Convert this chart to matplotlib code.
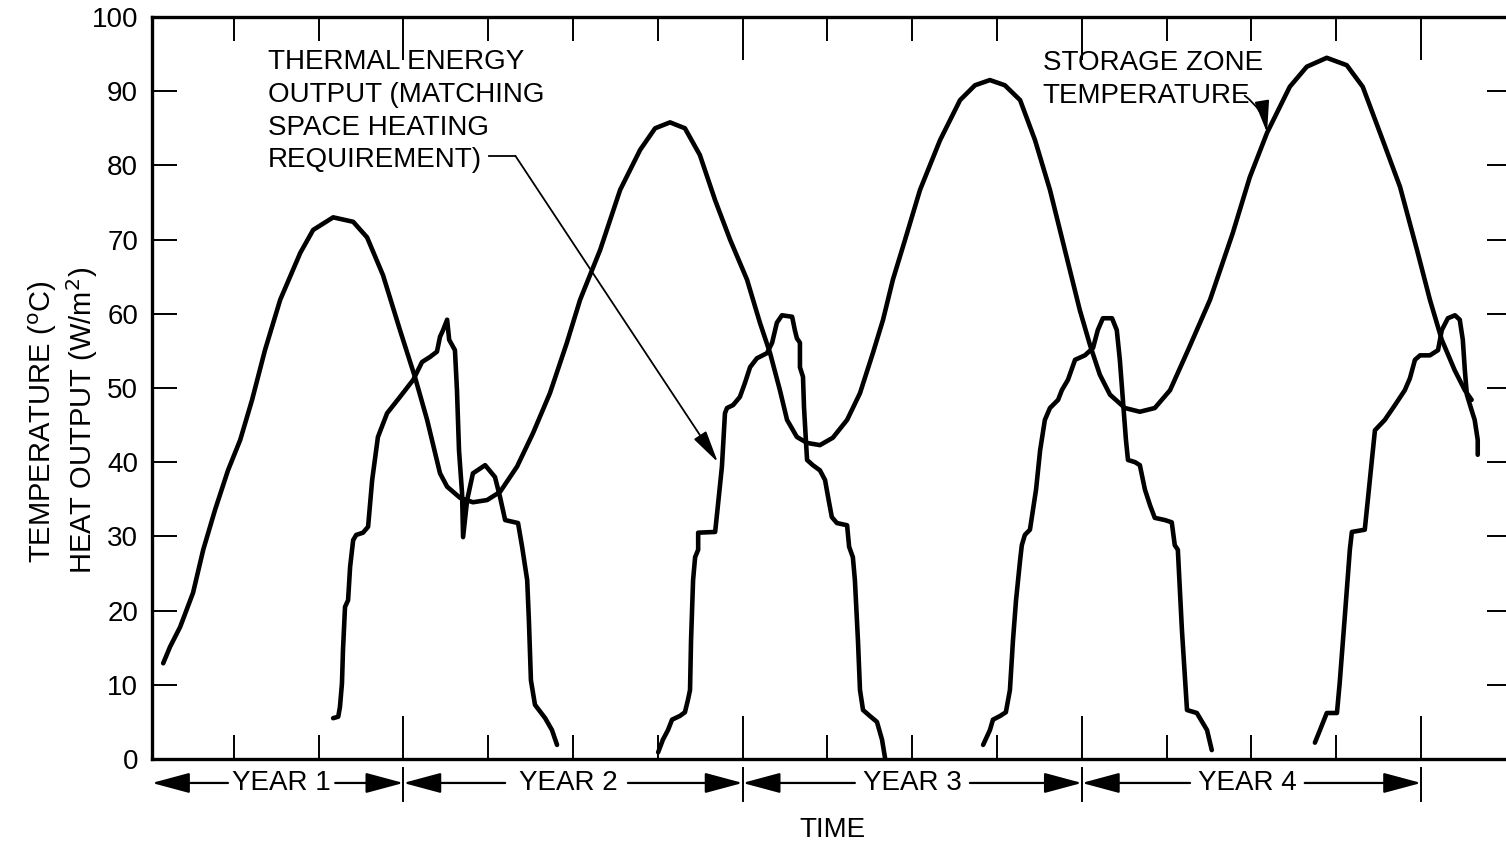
import matplotlib
matplotlib.use("Agg")
import matplotlib.pyplot as plt
from matplotlib.transforms import blended_transform_factory

plt.rcParams['font.family'] = ['Liberation Sans', 'DejaVu Sans']

# ---------------- data (time in years, value in degC or W/m2) ----------------
storage_t = [0.292, 0.312, 0.342, 0.380, 0.410, 0.445, 0.483, 0.519, 0.554, 0.592,
             0.637, 0.696, 0.734, 0.793, 0.852, 0.893, 0.940, 0.990, 1.034, 1.070,
             1.108, 1.129, 1.167, 1.205, 1.247, 1.285, 1.335, 1.382, 1.432, 1.482,
             1.521, 1.580, 1.639, 1.698, 1.742, 1.786, 1.830, 1.874, 1.919, 1.963,
             2.013, 2.051, 2.081, 2.110, 2.131, 2.160, 2.190, 2.228, 2.266, 2.308,
             2.346, 2.384, 2.414, 2.443, 2.479, 2.523, 2.582, 2.641, 2.685, 2.729,
             2.773, 2.818, 2.862, 2.906, 2.950, 2.994, 3.024, 3.053, 3.083, 3.127,
             3.171, 3.215, 3.260, 3.313, 3.378, 3.445, 3.495, 3.546, 3.613, 3.663,
             3.722, 3.781, 3.828, 3.887, 3.938, 3.988, 4.026, 4.061, 4.099, 4.129,
             4.149]
storage_v = [12.9, 15.1, 17.8, 22.4, 28.2, 33.6, 38.9, 43.0, 48.4, 55.1,
             61.9, 68.2, 71.3, 73.0, 72.4, 70.3, 65.2, 57.8, 51.5, 45.7,
             38.5, 36.7, 35.2, 34.6, 34.9, 36.0, 39.4, 43.9, 49.3, 56.1,
             61.9, 68.6, 76.7, 82.1, 85.0, 85.8, 85.0, 81.4, 75.3, 70.0,
             64.6, 58.8, 54.7, 49.7, 45.7, 43.4, 42.6, 42.3, 43.3, 45.7,
             49.3, 54.7, 59.2, 64.6, 70.0, 76.7, 83.4, 88.8, 90.8, 91.5,
             90.8, 88.8, 83.4, 76.7, 68.6, 60.5, 55.8, 51.8, 49.1, 47.3,
             46.8, 47.3, 49.7, 55.1, 61.9, 70.9, 78.4, 84.4, 90.6, 93.3,
             94.5, 93.5, 90.6, 83.4, 77.1, 68.6, 61.9, 56.5, 52.4, 49.7,
             48.4]

thermal_y1_t = [0.793, 0.808, 0.813, 0.819, 0.822, 0.828, 0.837, 0.843, 0.852, 0.861,
                0.881, 0.896, 0.908, 0.925, 0.952, 0.990, 1.029, 1.055, 1.079, 1.099,
                1.108, 1.117, 1.129, 1.135, 1.152, 1.158, 1.164, 1.173, 1.176, 1.188,
                1.205, 1.241, 1.270, 1.285, 1.300, 1.338, 1.350, 1.365, 1.370, 1.376,
                1.388, 1.418, 1.438, 1.453]
thermal_y1_v = [5.5, 5.7, 7.0, 10.2, 14.7, 20.5, 21.4, 25.9, 29.5, 30.2,
                30.5, 31.3, 37.6, 43.4, 46.6, 48.8, 51.1, 53.5, 54.2, 54.9,
                56.9, 57.8, 59.2, 56.5, 55.1, 49.7, 41.6, 35.8, 29.9, 34.9,
                38.5, 39.6, 38.0, 35.3, 32.2, 31.8, 28.6, 24.1, 18.7, 10.6,
                7.3, 5.5, 3.9, 1.9]

thermal_y2_t = [1.751, 1.765, 1.780, 1.792, 1.815, 1.830, 1.839, 1.845, 1.848, 1.854,
                1.860, 1.869, 1.869, 1.919, 1.925, 1.939, 1.948, 1.954, 1.972, 1.992,
                2.007, 2.022, 2.042, 2.072, 2.087, 2.101, 2.116, 2.146, 2.154, 2.160,
                2.169, 2.169, 2.178, 2.181, 2.187, 2.190, 2.207, 2.228, 2.243, 2.252,
                2.263, 2.278, 2.308, 2.314, 2.325, 2.331, 2.340, 2.346, 2.355, 2.375,
                2.396, 2.411, 2.420]
thermal_y2_v = [0.9, 2.6, 3.9, 5.3, 5.8, 6.3, 8.0, 9.3, 16.0, 24.1,
                27.2, 28.2, 30.5, 30.6, 33.2, 39.4, 46.6, 47.3, 47.7, 48.8,
                50.7, 52.8, 54.0, 54.7, 56.1, 58.8, 59.8, 59.6, 57.8, 56.7,
                56.1, 52.8, 51.5, 47.4, 42.6, 40.3, 39.6, 38.9, 37.6, 35.3,
                32.6, 31.8, 31.5, 28.6, 27.2, 24.1, 16.0, 9.3, 6.6, 5.8,
                5.0, 2.6, 0.1]

thermal_y3_t = [2.709, 2.729, 2.738, 2.759, 2.776, 2.788, 2.797, 2.806, 2.818, 2.823,
                2.832, 2.847, 2.856, 2.865, 2.877, 2.891, 2.906, 2.930, 2.941, 2.959,
                2.980, 3.009, 3.033, 3.047, 3.062, 3.089, 3.103, 3.112, 3.121, 3.130,
                3.136, 3.157, 3.171, 3.186, 3.201, 3.215, 3.245, 3.265, 3.274, 3.283,
                3.295, 3.310, 3.339, 3.369, 3.383]
thermal_y3_v = [1.9, 3.9, 5.3, 5.8, 6.3, 9.3, 16.0, 21.4, 26.8, 28.8,
                30.2, 30.9, 33.6, 36.3, 41.6, 45.7, 47.3, 48.4, 49.7, 51.1,
                53.8, 54.4, 55.4, 57.8, 59.4, 59.4, 57.8, 53.8, 48.4, 43.0,
                40.3, 40.0, 39.6, 36.3, 34.2, 32.5, 32.2, 31.9, 28.8, 28.2,
                17.4, 6.6, 6.2, 3.9, 1.2]

thermal_y4_t = [3.687, 3.702, 3.722, 3.752, 3.760, 3.775, 3.790, 3.796, 3.834, 3.843,
                3.855, 3.864, 3.893, 3.923, 3.952, 3.967, 3.982, 3.997, 4.026, 4.050,
                4.061, 4.079, 4.100, 4.114, 4.123, 4.129, 4.135, 4.149, 4.158, 4.167,
                4.167]
thermal_y4_v = [2.2, 3.9, 6.2, 6.2, 10.2, 19.1, 28.2, 30.6, 30.9, 34.9,
                40.3, 44.3, 45.7, 47.7, 49.7, 51.3, 53.8, 54.4, 54.4, 55.1,
                57.8, 59.4, 59.8, 59.2, 56.5, 52.4, 49.1, 47.0, 45.7, 43.0,
                41.0]

year_labels = ['YEAR 1', 'YEAR 2', 'YEAR 3', 'YEAR 4']
year_ends = [1, 2, 3, 4]
year_text_t = [0.640, 1.486, 2.500, 3.487]
year_left_t = [0.483, 1.300, 2.331, 3.319]
year_right_t = [0.799, 1.662, 2.670, 3.657]
year_start_t = [0.259, 1, 2, 3]

y_ticks = list(range(0, 101, 10))
quarter_ticks = [0.5, 0.75, 1.25, 1.5, 1.75, 2.25, 2.5, 2.75, 3.25, 3.5, 3.75]

# ---------------- figure ----------------
fig = plt.figure(figsize=(15.06, 8.46), dpi=100)
ax = fig.add_axes([0.10093, 0.10284, 0.90305, 0.87707])
ax.set_xlim(0.259, 4.268)
ax.set_ylim(0, 100)

line_kw = dict(color='black', lw=3.3, solid_joinstyle='round', solid_capstyle='round')
ax.plot(storage_t, storage_v, **line_kw)
for tt, vv in [(thermal_y1_t, thermal_y1_v), (thermal_y2_t, thermal_y2_v),
               (thermal_y3_t, thermal_y3_v), (thermal_y4_t, thermal_y4_v)]:
    ax.plot(tt, vv, **line_kw)

for s in ax.spines.values():
    s.set_linewidth(2.4)

ax.set_xticks(year_ends)
ax.set_xticks(quarter_ticks, minor=True)
ax.set_xticklabels([])
ax.tick_params(axis='x', which='major', direction='in', top=True, bottom=True,
               length=31, width=1.4)
ax.tick_params(axis='x', which='minor', direction='in', top=True, bottom=True,
               length=17, width=1.4)
ax.set_yticks(y_ticks)
ax.set_yticklabels([str(v) for v in y_ticks])
ax.tick_params(axis='y', which='major', direction='in', left=True, right=True,
               length=18, width=1.4, labelsize=20, pad=10)

# y-axis label (two lines)
fig.text(43 / 1506, 1 - 422 / 846, 'TEMPERATURE ($^{\\mathrm{o}}$C)',
         rotation=90, ha='center', va='center', fontsize=21)
fig.text(82 / 1506, 1 - 420 / 846, 'HEAT OUTPUT (W/m$^{2}$)',
         rotation=90, ha='center', va='center', fontsize=21)

fig.text(832 / 1506, 1 - 830 / 846, 'TIME', ha='center', va='center', fontsize=20)

# annotations
ax.text(0.601, 87.3, 'THERMAL ENERGY\nOUTPUT (MATCHING\nSPACE HEATING\nREQUIREMENT)',
        ha='left', va='center', fontsize=20, linespacing=1.33)
ax.plot([1.252, 1.330], [81.3, 81.3], color='black', lw=1.3)
ax.annotate('', xy=(1.927, 40.0), xytext=(1.330, 81.3),
            arrowprops=dict(arrowstyle='-|>,head_length=1.1,head_width=0.25',
                            mutation_scale=18, lw=1.3, color='black',
                            shrinkA=0, shrinkB=0))

ax.text(2.885, 91.6, 'STORAGE ZONE\nTEMPERATURE', ha='left', va='center',
        fontsize=20, linespacing=1.33)
ax.annotate('', xy=(3.546, 84.4), xytext=(3.480, 89.4),
            arrowprops=dict(arrowstyle='-|>,head_length=1.1,head_width=0.25',
                            mutation_scale=18, lw=1.3, color='black',
                            shrinkA=0, shrinkB=0,
                            connectionstyle='arc3,rad=-0.2'))

# year ranges under the axis
trans = blended_transform_factory(ax.transData, ax.transAxes)
ya = -0.0323
head = dict(arrowstyle='-|>,head_length=1.3,head_width=0.35', mutation_scale=18,
            lw=1.6, color='black', shrinkA=0, shrinkB=0)
for i, lab in enumerate(year_labels):
    ax.text(year_text_t[i], ya, lab, transform=trans, ha='center', va='center',
            fontsize=20, clip_on=False)
    ax.annotate('', xy=(year_start_t[i], ya), xytext=(year_left_t[i], ya),
                xycoords=trans, textcoords=trans, arrowprops=head,
                annotation_clip=False)
    ax.annotate('', xy=(year_ends[i], ya), xytext=(year_right_t[i], ya),
                xycoords=trans, textcoords=trans, arrowprops=head,
                annotation_clip=False)
    ax.plot([year_ends[i], year_ends[i]], [-0.012, -0.057], transform=trans,
            color='black', lw=1.4, clip_on=False)

fig.savefig('out.png', dpi=100, facecolor='white')
